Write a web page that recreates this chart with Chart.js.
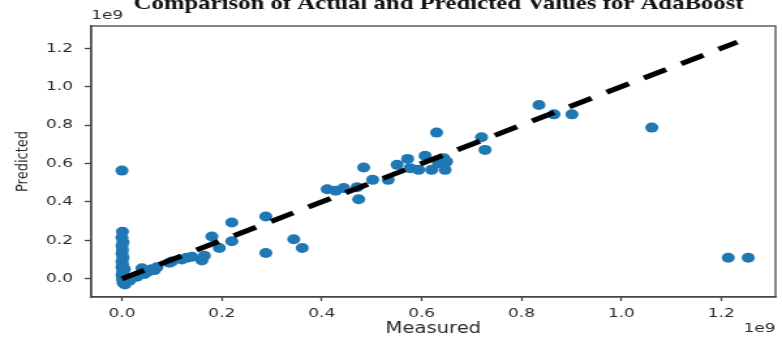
<!DOCTYPE html>
<html>
<head>
<meta charset="utf-8">
<script src="https://cdn.jsdelivr.net/npm/chart.js@4.4.1/dist/chart.umd.min.js"></script>
<style>
  html, body { margin: 0; padding: 0; background: #fff; overflow: hidden; }
  canvas { display: block; }
</style>
</head>
<body>
<!-- drawn narrow, shown stretched like the source image -->
<canvas id="c" width="600" height="339" style="width:782px;height:339px"></canvas>
<script>
  const TITLE = "Comparison of Actual and Predicted Values for AdaBoost";
  const X_LABEL = "Measured";
  const Y_LABEL = "Predicted";
  const EXP = "1e9";
  const SCALE = 1e9;

  // values in units of 1e9
  const measured = [
    0.000, 0.001, 0.000, 0.002, 0.000, 0.001, 0.000, 0.002, 0.000, 0.001,
    0.000, 0.002, 0.001, 0.000, 0.003, 0.001, 0.004, 0.002, 0.006, 0.005,
    0.008, 0.015, 0.020, 0.030, 0.035, 0.045, 0.050, 0.055, 0.060, 0.065,
    0.070, 0.040, 0.095, 0.100, 0.120, 0.130, 0.140, 0.160, 0.165, 0.180,
    0.195, 0.220, 0.220, 0.288, 0.288, 0.344, 0.361, 0.411, 0.428, 0.444,
    0.471, 0.474, 0.484, 0.502, 0.533, 0.551, 0.572, 0.577, 0.594, 0.607,
    0.620, 0.630, 0.634, 0.644, 0.647, 0.650, 0.720, 0.727, 0.835, 0.865,
    0.901, 1.061, 1.214, 1.254
  ];
  const predicted = [
    0.563, 0.245, 0.215, 0.190, 0.170, 0.150, 0.130, 0.110, 0.090, 0.075,
    0.060, 0.045, 0.030, 0.020, 0.010, 0.000, -0.010, -0.020, -0.030, 0.050,
    0.000, -0.010, 0.005, 0.010, 0.020, 0.025, 0.035, 0.040, 0.050, 0.045,
    0.060, 0.055, 0.083, 0.090, 0.100, 0.110, 0.115, 0.095, 0.120, 0.220,
    0.160, 0.195, 0.293, 0.324, 0.134, 0.206, 0.160, 0.466, 0.458, 0.472,
    0.477, 0.414, 0.579, 0.515, 0.515, 0.593, 0.624, 0.576, 0.567, 0.640,
    0.567, 0.761, 0.602, 0.628, 0.567, 0.610, 0.737, 0.671, 0.905, 0.856,
    0.856, 0.787, 0.109, 0.109
  ];
  // ideal line y = x, ends where the last dash ends
  const idealLine = [0.0, 1.232];

  const xTicks = [0.0, 0.2, 0.4, 0.6, 0.8, 1.0, 1.2];
  const xTickLabels = ["0.0", "0.2", "0.4", "0.6", "0.8", "1.0", "1.2"];
  const yTicks = [0.0, 0.2, 0.4, 0.6, 0.8, 1.0, 1.2];
  const yTickLabels = ["0.0", "0.2", "0.4", "0.6", "0.8", "1.0", "1.2"];

  const AXIS_COLOR = "#444";
  const TEXT_COLOR = "#2a2a2a";
  const tickFont = { family: "'DejaVu Sans'", size: 13 };

  const overlay = {
    id: "overlay",
    afterDraw(chart) {
      const { ctx, chartArea: a } = chart;
      ctx.save();
      ctx.strokeStyle = AXIS_COLOR;
      ctx.lineWidth = 1.3;
      ctx.strokeRect(a.left, a.top, a.right - a.left, a.bottom - a.top);

      ctx.fillStyle = "#111";
      ctx.font = "bold 19px 'Liberation Serif'";
      ctx.textAlign = "center";
      ctx.textBaseline = "alphabetic";
      ctx.fillText(TITLE, (a.left + a.right) / 2 + 4, 9);

      ctx.fillStyle = TEXT_COLOR;
      ctx.font = "13px 'DejaVu Sans'";
      ctx.textBaseline = "middle";
      ctx.textAlign = "left";
      ctx.fillText(EXP, a.left, 16);
      ctx.textAlign = "right";
      ctx.fillText(EXP, a.right, 329);
      ctx.restore();
    },
  };

  new Chart(document.getElementById("c"), {
    type: "scatter",
    data: {
      datasets: [
        {
          data: measured.map((m, i) => ({ x: m * SCALE, y: predicted[i] * SCALE })),
          backgroundColor: "#1f77b4",
          borderWidth: 0,
          pointRadius: 5,
          order: 2,
        },
        {
          type: "line",
          data: idealLine.map((v) => ({ x: v * SCALE, y: v * SCALE })),
          borderColor: "#000",
          borderWidth: 5,
          borderDash: [19, 13],
          pointRadius: 0,
          fill: false,
          order: 1,
        },
      ],
    },
    options: {
      responsive: false,
      animation: false,
      events: [],
      layout: { padding: { top: 26, right: 3, left: 0, bottom: 0 } },
      plugins: { legend: { display: false }, tooltip: { enabled: false } },
      scales: {
        x: {
          type: "linear",
          min: -0.0615 * SCALE,
          max: 1.3086 * SCALE,
          afterBuildTicks: (s) => { s.ticks = xTicks.map((v) => ({ value: v * SCALE })); },
          afterFit: (s) => { s.height = 42; },
          ticks: {
            autoSkip: false,
            maxRotation: 0,
            padding: 5,
            color: TEXT_COLOR,
            font: tickFont,
            callback: (v, i) => xTickLabels[i],
          },
          grid: { drawOnChartArea: false, drawTicks: true, tickLength: 4, color: AXIS_COLOR, tickWidth: 1.3 },
          border: { display: true, color: AXIS_COLOR, width: 1.3 },
          title: {
            display: true,
            text: X_LABEL,
            color: TEXT_COLOR,
            font: { family: "'DejaVu Sans'", size: 15 },
            padding: { top: 0, bottom: 1 },
          },
        },
        y: {
          type: "linear",
          min: -0.095 * SCALE,
          max: 1.316 * SCALE,
          afterBuildTicks: (s) => { s.ticks = yTicks.map((v) => ({ value: v * SCALE })); },
          afterFit: (s) => { s.width = 70; },
          ticks: {
            autoSkip: false,
            padding: 9,
            color: TEXT_COLOR,
            font: tickFont,
            callback: (v, i) => yTickLabels[i],
          },
          grid: { drawOnChartArea: false, drawTicks: true, tickLength: 5, color: AXIS_COLOR, tickWidth: 1.3 },
          border: { display: true, color: AXIS_COLOR, width: 1.3 },
          title: {
            display: true,
            text: Y_LABEL,
            color: TEXT_COLOR,
            font: { family: "'DejaVu Sans'", size: 13 },
            padding: { top: 10, bottom: 0 },
          },
        },
      },
    },
    plugins: [overlay],
  });
</script>
</body>
</html>
